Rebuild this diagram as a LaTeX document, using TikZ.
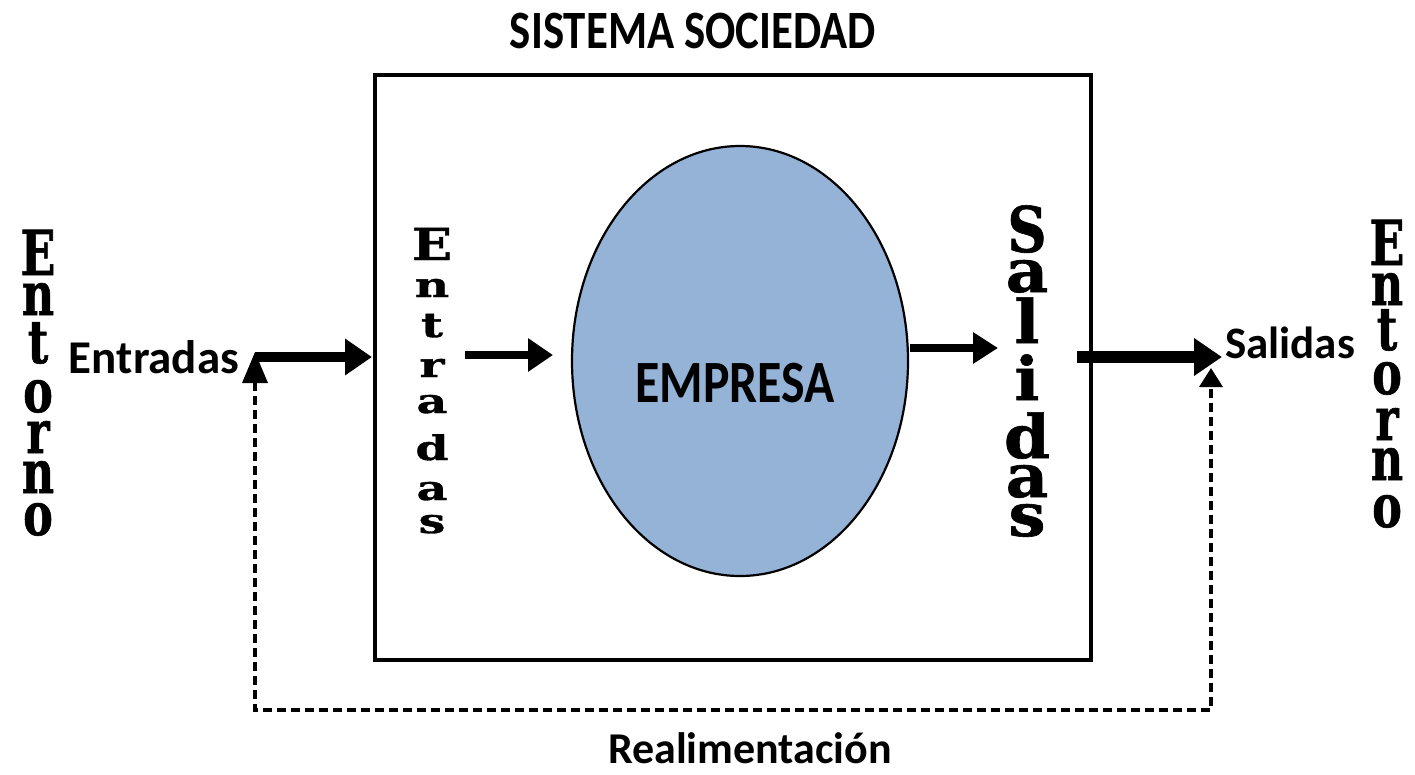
\documentclass[tikz,border=0pt]{standalone}
\usepackage{fontspec}
\setmainfont{Carlito}
\newfontfamily\slabA[FakeStretch=0.74,FakeBold=1]{DejaVu Serif}
\newfontfamily\slabS[FakeStretch=0.86,FakeBold=1]{DejaVu Serif}
\newfontfamily\slabB[FakeStretch=1.2,FakeBold=1]{DejaVu Serif}
\newfontfamily\slabC[FakeStretch=1.4,FakeBold=1]{DejaVu Serif}
\newfontfamily\slabD[FakeStretch=1.1,FakeBold=1]{DejaVu Serif}
\newfontfamily\carlnarrow[FakeStretch=0.83]{Carlito}
\usetikzlibrary{arrows.meta,shapes.geometric}
\definecolor{empblue}{HTML}{95B3D7}
\begin{document}
\begin{tikzpicture}[x=1pt,y=-1pt,
  lbl/.style={font=\bfseries\fontsize{45}{54}\selectfont, inner sep=0, anchor=base},
  letter/.style={inner sep=0, anchor=base},
  entcap/.style={font=\slabA\bfseries\fontsize{62}{62}\selectfont},
  entlow/.style={font=\slabA\bfseries\fontsize{60}{60}\selectfont},
  entrcap/.style={font=\slabB\bfseries\fontsize{44}{44}\selectfont},
  entrlow/.style={font=\slabC\bfseries\fontsize{34}{34}\selectfont},
  salcap/.style={font=\slabS\bfseries\fontsize{63}{63}\selectfont},
  sallow/.style={font=\slabD\bfseries\fontsize{60}{60}\selectfont},
  fb/.style={line width=3.5pt, dash pattern=on 9pt off 5pt}
]
\useasboundingbox (0,0) rectangle (1415,774);

% title
\node[inner sep=0, anchor=base, font=\carlnarrow\bfseries\fontsize{54}{60}\selectfont] (title) at (693,48) {SISTEMA SOCIEDAD};

% system box
\node[draw, line width=3.5pt, minimum width=716pt, minimum height=585pt, inner sep=0] (box) at (733,367.5) {};

% empresa
\node[ellipse, draw, line width=2.2pt, fill=empblue, minimum width=336pt, minimum height=430pt, inner sep=0] (emp) at (740,361) {};
\node[inner sep=0, anchor=base, font=\carlnarrow\bfseries\fontsize{60}{66}\selectfont] (emptext) at (735,402) {EMPRESA};

% vertical "Entorno" (left)
\node[letter, entcap] (entL1) at (38,275) {E};
\foreach \ch/\yy [count=\k from 2] in {n/315,t/363,o/412,r/453,n/493,o/535}
  \node[letter, entlow] (entL\k) at (38,\yy) {\ch};

% vertical "Entorno" (right)
\node[letter, entcap] (entR1) at (1387,265) {E};
\foreach \ch/\yy [count=\k from 2] in {n/305,t/350,o/394,r/440,n/480,o/527}
  \node[letter, entlow] (entR\k) at (1387,\yy) {\ch};

% vertical "Entradas" (inside)
\node[letter, entrcap] (entV1) at (432,260) {E};
\foreach \ch/\yy [count=\k from 2] in {n/297,t/337,r/377,a/413,d/460,a/500,s/533}
  \node[letter, entrlow] (entV\k) at (432,\yy) {\ch};

% vertical "Salidas" (inside)
\node[letter, salcap] (salV1) at (1027,252) {S};
\foreach \ch/\yy [count=\k from 2] in {a/292,l/343,i/400,d/458,a/497,s/536}
  \node[letter, sallow] (salV\k) at (1027,\yy) {\ch};

% horizontal labels
\node[lbl, font=\bfseries\fontsize{47}{54}\selectfont] (entradasL) at (154,373) {Entradas};
\node[lbl] (salidasR) at (1290,358) {Salidas};
\node[lbl, font=\bfseries\fontsize{44}{52}\selectfont] (realim) at (750,763) {Realimentación};

% flow arrows
\coordinate (inS) at (255,357);
\coordinate (inE) at (372,357);
\draw[line width=10pt, -{Triangle[length=27pt,width=35pt]}] (inS) -- (inE);

\coordinate (i1) at (465,355);
\coordinate (i2) at (553,355);
\draw[line width=8pt, -{Triangle[length=25pt,width=32pt]}] (i1) -- (i2);

\coordinate (o1) at (910,348);
\coordinate (o2) at (998,348);
\draw[line width=8pt, -{Triangle[length=25pt,width=30pt]}] (o1) -- (o2);

\coordinate (outS) at (1077,357);
\coordinate (outE) at (1222,357);
\draw[line width=12pt, -{Triangle[length=28pt,width=36pt]}] (outS) -- (outE);

% feedback
\coordinate (tipL) at (255,352);
\coordinate (tipR) at (1211,368);
\coordinate (fbY) at (0,710);
\draw[fb, arrows={Triangle[length=31pt,width=25pt]-Triangle[length=19pt,width=23pt]}]
  (tipL) -- (tipL |- fbY) -- (tipR |- fbY) -- (tipR);
\end{tikzpicture}
\end{document}
